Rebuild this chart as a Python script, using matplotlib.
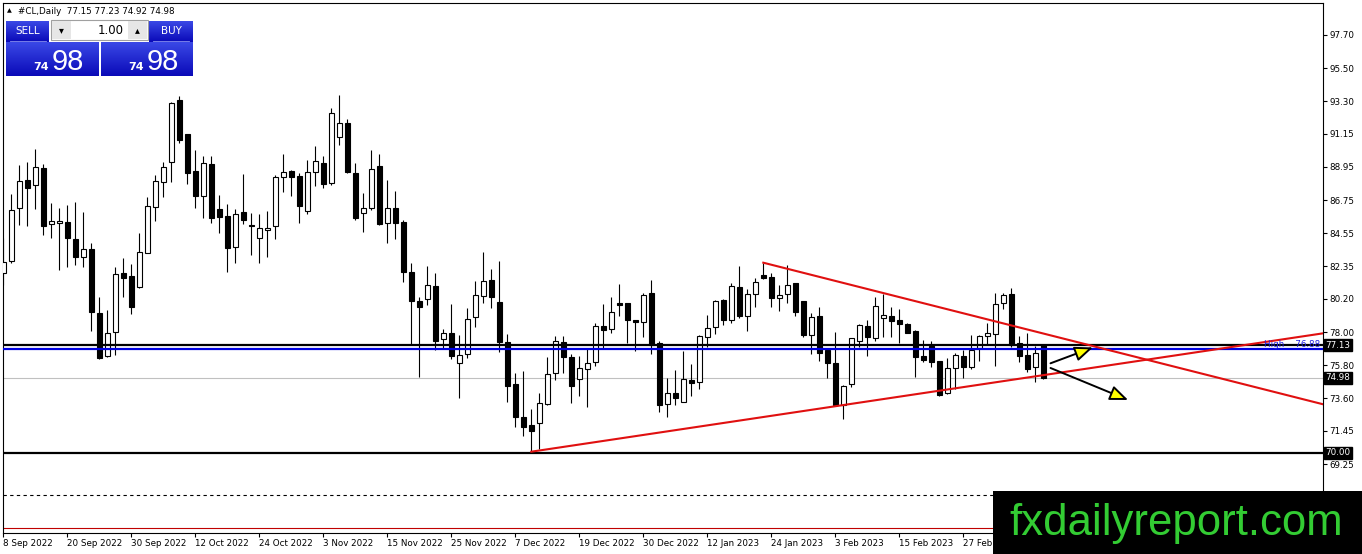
import numpy as np
import matplotlib
matplotlib.use('Agg')
import matplotlib.pyplot as plt
from matplotlib.patches import Rectangle

plt.rcParams['font.family'] = ['DejaVu Sans']

# daily bars of #CL, 8 Sep 2022 .. 13 Mar 2023 (one bar per trading day)
opens = [81.90, 82.73, 86.21, 88.08, 87.75, 88.86, 85.15, 85.21, 85.28, 84.15,
         83.00, 83.49, 79.24, 76.43, 78.02, 81.90, 81.72, 80.97, 83.22, 86.31,
         87.97, 89.30, 93.39, 91.13, 88.68, 87.04, 89.15, 86.16, 85.70, 83.62,
         85.94, 85.10, 84.22, 84.77, 85.00, 88.26, 88.68, 88.35, 86.05, 88.64,
         89.19, 87.91, 90.96, 91.84, 88.53, 85.88, 86.21, 89.01, 85.21, 86.21,
         85.28, 82.00, 80.06, 80.17, 81.06, 77.52, 77.92, 75.93, 76.52, 78.98,
         80.39, 81.45, 79.97, 77.32, 74.56, 72.35, 71.84, 71.99, 73.23, 75.27,
         77.32, 76.33, 74.87, 75.53, 76.04, 78.40, 78.18, 79.95, 79.95, 78.80,
         78.69, 80.61, 77.26, 73.21, 73.94, 73.38, 74.82, 74.71, 77.65, 78.36,
         80.13, 78.80, 80.97, 79.09, 80.50, 81.78, 81.63, 80.24, 80.50, 81.23,
         80.08, 77.81, 79.07, 76.81, 75.93, 73.16, 74.54, 77.43, 78.40, 77.63,
         78.91, 79.07, 78.80, 78.54, 78.07, 76.41, 77.08, 76.08, 73.94, 75.60,
         76.41, 75.70, 76.92, 77.76, 77.85, 79.91, 80.52, 77.30, 76.48, 75.66,
         77.15]
highs = [84.24, 87.16, 89.08, 89.30, 90.12, 89.15, 86.54, 86.21, 86.43, 86.60,
         85.94, 83.89, 80.31, 79.46, 82.33, 82.89, 82.51, 84.55, 86.94, 88.42,
         89.30, 93.28, 93.65, 91.13, 90.07, 89.68, 89.68, 87.09, 86.47, 86.16,
         88.48, 85.88, 85.81, 86.05, 88.42, 89.81, 88.75, 88.53, 89.41, 90.34,
         89.68, 92.84, 93.72, 92.11, 89.19, 87.24, 90.07, 89.79, 88.08, 87.35,
         85.43, 82.60, 80.31, 82.38, 81.94, 78.18, 79.86, 77.81, 79.58, 81.39,
         83.29, 82.18, 82.71, 77.85, 75.31, 75.44, 72.88, 73.94, 76.33, 77.74,
         77.74, 76.55, 76.41, 76.86, 78.62, 79.86, 80.35, 81.19, 79.95, 78.80,
         80.61, 81.45, 77.43, 74.93, 75.49, 76.76, 75.86, 77.81, 79.13, 80.13,
         80.17, 81.23, 82.38, 80.84, 81.61, 82.60, 81.94, 81.12, 82.45, 81.23,
         80.08, 79.24, 79.68, 76.86, 78.02, 74.49, 77.59, 78.54, 78.80, 80.35,
         80.52, 79.68, 79.51, 78.58, 78.14, 77.47, 77.41, 76.08, 76.26, 76.59,
         76.81, 77.81, 77.81, 78.58, 80.57, 80.57, 80.90, 77.74, 77.96, 77.08,
         77.23]
lows = [81.12, 82.60, 85.10, 85.03, 86.14, 84.44, 84.22, 82.12, 82.33, 82.45,
        82.33, 78.09, 76.20, 76.37, 76.48, 80.31, 79.18, 80.90, 83.22, 85.37,
        86.98, 87.97, 90.52, 87.82, 86.25, 85.54, 85.21, 84.59, 82.00, 82.56,
        85.17, 83.11, 82.60, 83.00, 84.15, 87.31, 87.02, 85.25, 85.83, 87.69,
        87.57, 87.75, 90.41, 88.53, 85.43, 84.66, 86.10, 85.10, 83.93, 84.15,
        81.34, 77.14, 75.00, 79.80, 76.81, 76.92, 76.19, 73.61, 76.26, 78.36,
        79.91, 79.58, 76.70, 73.38, 71.73, 71.11, 70.07, 70.23, 73.16, 74.82,
        75.31, 73.32, 73.78, 73.01, 75.75, 76.92, 77.96, 79.07, 77.30, 76.76,
        77.65, 76.55, 72.68, 72.39, 73.16, 73.38, 73.76, 74.20, 77.03, 77.87,
        78.47, 78.62, 78.91, 78.09, 79.68, 81.50, 79.64, 79.42, 79.91, 79.07,
        77.65, 76.55, 76.10, 74.93, 73.10, 72.22, 74.38, 77.03, 76.43, 77.43,
        77.69, 77.69, 77.26, 77.92, 75.04, 76.04, 75.67, 73.76, 73.89, 74.20,
        74.97, 75.53, 76.10, 77.14, 75.75, 79.51, 76.99, 76.04, 75.37, 74.71,
        74.92]
closes = [82.67, 86.09, 88.02, 87.57, 88.93, 85.05, 85.35, 85.35, 84.22, 83.00,
          83.49, 79.35, 76.26, 77.92, 81.85, 81.57, 79.68, 83.29, 86.36, 88.02,
          88.93, 93.17, 90.74, 88.57, 87.02, 89.19, 85.54, 85.61, 83.55, 85.81,
          85.43, 85.00, 84.88, 84.92, 88.26, 88.61, 88.30, 86.36, 88.61, 89.34,
          87.82, 92.51, 91.84, 88.64, 85.58, 86.21, 88.79, 85.17, 86.21, 85.25,
          82.00, 80.08, 79.68, 81.12, 77.43, 77.96, 76.43, 76.48, 78.85, 80.46,
          81.39, 80.31, 77.32, 74.42, 72.39, 71.73, 71.46, 73.28, 75.20, 77.41,
          76.33, 74.44, 75.60, 75.93, 78.40, 78.14, 79.33, 79.80, 78.80, 78.69,
          80.46, 77.14, 73.16, 73.94, 73.65, 74.87, 74.64, 77.74, 78.25, 80.06,
          78.80, 81.06, 79.07, 80.52, 81.30, 81.57, 80.24, 80.44, 81.12, 79.35,
          77.81, 78.98, 76.63, 75.93, 73.16, 74.42, 77.59, 78.47, 77.65, 79.73,
          79.13, 78.76, 78.52, 77.96, 76.33, 76.15, 76.04, 73.83, 75.64, 76.48,
          75.70, 76.81, 77.74, 77.92, 79.86, 80.46, 77.14, 76.43, 75.53, 76.59,
          74.98]

date_labels = ['8 Sep 2022', '20 Sep 2022', '30 Sep 2022', '12 Oct 2022', '24 Oct 2022',
               '3 Nov 2022', '15 Nov 2022', '25 Nov 2022', '7 Dec 2022', '19 Dec 2022',
               '30 Dec 2022', '12 Jan 2023', '24 Jan 2023', '3 Feb 2023', '15 Feb 2023',
               '27 Feb 2023']
date_bars = list(range(0, 121, 8))
price_ticks = [97.70, 95.50, 93.30, 91.15, 88.95, 86.75, 84.55, 82.35, 80.20, 78.00,
               75.80, 73.60, 71.45, 69.25]

# horizontal levels
resistance = 77.13
prev_high = 76.88
support = 70.00
bid = 74.98
dashed_level = 67.20
low_red_level = 65.02

# trendlines: (bar, price) pairs
tl_low_bars, tl_low_prices = [66, 165], [70.07, 77.92]
tl_high_bars, tl_high_prices = [95, 165], [82.60, 73.21]

# arrows: start and tip as (bar, price)
arrow_up = ((130.9, 75.93), (136.2, 76.98))
arrow_down = ((130.9, 75.62), (140.6, 73.50))

W, H = 1362, 554
fig = plt.figure(figsize=(W / 100, H / 100), dpi=100)
ax = fig.add_axes([2.5 / W, (H - 533) / H, 1320 / W, 530.5 / H])

o = np.array(opens); h = np.array(highs); l = np.array(lows); c = np.array(closes)
x = np.arange(len(o))
up = c >= o
ax.vlines(x, l, h, color='black', lw=0.8, zorder=2)
body = np.maximum(np.abs(c - o), 0.03)
ax.bar(x, body, bottom=np.minimum(o, c), width=0.6,
       color=np.where(up, 'white', 'black'), edgecolor='black', linewidth=0.8, zorder=3)

ax.axhline(bid, color='#c0c0c0', lw=0.8, zorder=1)
ax.axhline(dashed_level, color='black', lw=0.8, ls=(0, (3, 3)), zorder=1)
ax.axhline(low_red_level, color='#c00000', lw=0.8, zorder=1)
ax.axhline(resistance, color='black', lw=1.6, zorder=4)
ax.axhline(prev_high, color='#0000e0', lw=1.6, zorder=4)
ax.axhline(support, color='black', lw=1.6, zorder=4)
ax.plot(tl_low_bars, tl_low_prices, color='#e01010', lw=1.5, zorder=5)
ax.plot(tl_high_bars, tl_high_prices, color='#e01010', lw=1.5, zorder=5)

for start, tip in (arrow_up, arrow_down):
    ax.annotate('', xy=tip, xytext=start, zorder=6,
                arrowprops=dict(arrowstyle='-|>,head_length=1.1,head_width=0.45',
                                fc='#ffff00', ec='black', lw=1.4, mutation_scale=10,
                                shrinkA=0, shrinkB=0))

ax.text(164.6, prev_high + 0.03, 'High    76.88', ha='right', va='bottom',
        fontsize=6.3, color='#2020e0', zorder=6)

ax.set_xlim(-0.1, 164.9)
ax.set_ylim(64.68, 99.85)
ax.yaxis.tick_right()
ax.set_yticks(price_ticks)
ax.set_yticklabels([f'{p:.2f}' for p in price_ticks])
ax.set_xticks(date_bars)
ax.set_xticklabels(date_labels)
for lbl in ax.get_xticklabels():
    lbl.set_ha('left')
ax.tick_params(axis='both', labelsize=6.3, length=3, width=0.8, color='black')
ax.tick_params(axis='x', pad=1.5)
ax.tick_params(axis='y', pad=2)
for s in ax.spines.values():
    s.set_linewidth(0.8)

for lvl in (resistance, bid, support):
    ax.text(1.0 + 3 / 1320, lvl, f'{lvl:.2f}', transform=ax.get_yaxis_transform(),
            ha='left', va='center', fontsize=6.3, color='white', clip_on=False, zorder=7,
            bbox=dict(boxstyle='square,pad=0.18', fc='black', ec='black'))

# overlay in pixel coordinates: trade panel, header, watermark
ov = fig.add_axes([0, 0, 1, 1], zorder=10)
ov.axis('off')
grad = np.linspace(0, 1, 50).reshape(-1, 1)
blue = matplotlib.colors.LinearSegmentedColormap.from_list('b', ['#3a48e6', '#0a0ab8'])
for (x0, y0, x1, y1) in [(6, 21, 49, 42), (149, 21, 193, 42), (6, 42, 99, 76), (101, 42, 193, 76)]:
    ov.imshow(grad, extent=(x0, x1, y1, y0), cmap=blue, aspect='auto', zorder=1)
ov.plot([10, 46], [41, 41], color='#8890f0', lw=0.6, zorder=2)
ov.plot([153, 189], [41, 41], color='#8890f0', lw=0.6, zorder=2)
ov.add_patch(Rectangle((51, 20), 97, 20, fc='white', ec='#a0a0a0', lw=0.8, zorder=2))
ov.add_patch(Rectangle((52, 21), 19, 18, fc='#e6e6e6', ec='none', zorder=3))
ov.add_patch(Rectangle((128, 21), 19, 18, fc='#e6e6e6', ec='none', zorder=3))
ov.text(61.5, 30, '▾', ha='center', va='center', fontsize=7, zorder=4)
ov.text(137.5, 30, '▴', ha='center', va='center', fontsize=7, zorder=4)
ov.text(124, 30, '1.00', ha='right', va='center', fontsize=8.5, zorder=4)
ov.text(27.5, 31, 'SELL', ha='center', va='center', fontsize=7.5, color='white', zorder=4)
ov.text(171, 31, 'BUY', ha='center', va='center', fontsize=7.5, color='white', zorder=4)
for bx in (6, 101):
    ov.text(bx + 43, 70, '74', ha='right', va='baseline', fontsize=8, fontweight='bold',
            color='white', zorder=4)
    ov.text(bx + 46, 70, '98', ha='left', va='baseline', fontsize=21,
            family='Liberation Sans', color='white', zorder=4)
ov.text(7, 11, '▲', ha='left', va='center', fontsize=4.5, zorder=4)
ov.text(18, 11, '#CL,Daily  77.15 77.23 74.92 74.98', ha='left', va='center',
        fontsize=6.3, zorder=4)
ov.add_patch(Rectangle((993, 491), W - 993, H - 491, fc='black', ec='none', zorder=5))
ov.text(1176, 535, 'fxdailyreport.com', ha='center', va='baseline', fontsize=31.5,
        family='Liberation Sans', color='#33cc33', zorder=6)
ov.set_xlim(0, W)
ov.set_ylim(H, 0)

fig.savefig('out.png', dpi=100)
